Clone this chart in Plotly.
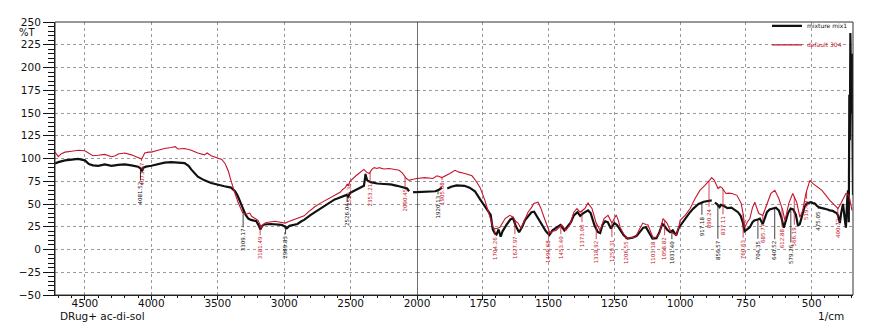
import numpy as np
import plotly.graph_objects as go

# ---- spectrum data (wavenumber in 1/cm, transmittance in %T) ----
mix_wn = [4725, 4700, 4650, 4600, 4550, 4500, 4470, 4440, 4400, 4350, 4300, 4250, 4200, 4150,
          4100, 4080, 4071, 4060, 4040, 4000, 3950, 3900, 3850, 3800, 3750, 3720, 3700, 3650,
          3600, 3550, 3500, 3450, 3400, 3370, 3350, 3330, 3310, 3290, 3270, 3250, 3230, 3210,
          3190, 3180, 3165, 3150, 3100, 3050, 3020, 2990, 2980, 2960, 2930, 2900, 2870, 2850,
          2800, 2760, 2720, 2700, 2650, 2620, 2600, 2560, 2530, 2518, 2505, 2480, 2450, 2420,
          2400, 2392, 2388, 2384, 2375, 2350, 2320, 2300, 2250, 2200, 2150, 2100, 2075, 2060,
          2050, 2040, 2030, 2000,
          1970, 1950, 1930, 1915, 1905, 1895, 1885, 1870, 1850, 1820, 1800, 1780, 1760, 1740,
          1720, 1712, 1705, 1698, 1690, 1682, 1675, 1660, 1645, 1635, 1625, 1612, 1600, 1590,
          1575, 1565, 1555, 1545, 1525, 1510, 1497, 1485, 1470, 1455, 1440, 1428, 1415, 1404,
          1390, 1380, 1370, 1350, 1340, 1325, 1312, 1304, 1295, 1285, 1275, 1263, 1250, 1240,
          1228, 1215, 1200, 1180, 1165, 1150, 1140, 1130, 1120, 1105, 1090, 1080, 1068, 1062,
          1050, 1038, 1028, 1015, 1005, 995, 980, 965, 950, 930, 910, 895, 880, 875, 868, 860,
          850, 845, 835, 820, 805, 790, 780, 770, 762, 755, 745, 735, 725, 718, 705, 697, 686,
          678, 670, 660, 650, 636, 625, 615, 606, 598, 590, 580, 570, 560, 552, 545, 535, 527,
          519, 510, 503, 495, 488, 480, 469, 460, 450, 440, 431, 420, 412, 405, 400, 393, 388,
          381, 375, 370, 365, 362, 359, 357, 355, 353, 351, 349, 347, 345, 343]
mix_t = [94.5, 96, 98, 99, 99.5, 98, 94, 92.5, 92, 93.5, 92, 93, 93.5, 92.5,
         91, 89, 86, 90, 91, 92, 94, 95.5, 96, 95.5, 95, 92, 88, 80,
         76, 73, 71, 69.5, 68, 64, 59, 51, 45, 38, 34, 32.5, 32, 31,
         26, 22, 26, 27.5, 28, 27, 27, 25, 23.5, 26, 27, 28, 31, 32.5,
         38, 42, 46, 48, 52, 55, 56, 58.5, 60, 58, 62, 64, 66, 68,
         70, 78, 83, 80, 76, 74, 73, 72.5, 72, 71.5, 70, 68, 67, 64,
         None, None, 63, 63,
         63.5, 63, 64, 66, 68, None, 67, 69, 70.5, 70, 68, 64, 55, 46,
         38, 22, 18, 16.5, 22, 14, 20, 27, 33, 34.5, 26, 19, 25, 32,
         38, 41, 41.5, 37, 27, 20, 16, 21, 24, 27, 21, 26, 30, 37.5,
         41, 37, 39.5, 43, 40, 26, 19, 18, 27, 31, 30, 23, 29, 27,
         21, 16, 12, 13, 15, 21, 24, 24.5, 20, 12, 12.5, 18, 28, 27,
         22, 19, 21, 15.5, 24, 28, 35, 40, 45, 50, 52.5, 53, 54, None, 51.5, 50,
         46.5, 49, 48, 45.5, 46, 43, 41, 37, 30, 20, 22, 24.5, 30, 32, 33, 34, 28,
         35, 41, 44, 45, 46, 43, 35, 24, 31, 40, 45, 44, 38, 26, 28, 40, 47,
         50.5, 51, 52, 51, 50.5, 48, 46, 45.5, 45, 44, 43, 42.5, 41, 40, 37.5, 29, 40,
         50, 35, 24, 55, 65, 30, 170, 120, 238, 200, 150, 215, 110, 60]

ref_wn = [4725, 4710, 4700, 4680, 4650, 4600, 4550, 4500, 4470, 4440, 4400, 4350, 4300, 4270,
          4250, 4200, 4150, 4110, 4090, 4073, 4060, 4050, 4020, 4000, 3950, 3900, 3850, 3820,
          3800, 3750, 3700, 3650, 3600, 3580, 3550, 3500, 3470, 3445, 3420, 3407, 3390, 3370,
          3350, 3332, 3315, 3300, 3280, 3260, 3245, 3234, 3215, 3197, 3180, 3170, 3160, 3140,
          3121, 3100, 3069, 3030, 2993, 2970, 2940, 2910, 2880, 2850, 2820, 2805, 2770, 2730,
          2700, 2654, 2620, 2579, 2560, 2541, 2525, 2518, 2505, 2480, 2460, 2439, 2420, 2400,
          2394, 2380, 2360, 2340, 2323, 2300, 2286, 2250, 2210, 2170, 2135, 2110, 2098, 2080,
          2060, 2040, 2000,
          1970, 1940, 1924, 1905, 1890, 1875, 1856, 1840, 1818, 1800, 1791, 1775, 1760, 1742,
          1730, 1723, 1711, 1705, 1696, 1685, 1665, 1647, 1635, 1625, 1616, 1605, 1590, 1578,
          1565, 1556, 1540, 1530, 1518, 1510, 1495, 1484, 1472, 1460, 1450, 1434, 1419, 1404,
          1392, 1380, 1362, 1350, 1335, 1320, 1304, 1289, 1274, 1259, 1243, 1235, 1228, 1215,
          1200, 1185, 1170, 1155, 1142, 1130, 1122, 1110, 1103, 1090, 1078, 1065, 1050, 1035,
          1015, 1005, 1000, 981, 962, 943, 925, 906, 894, 885, 880, 870, 856, 848, 841, 826,
          815, 803, 784, 768, 760, 754, 745, 735, 725, 716, 708, 701, 686, 670, 655, 640, 625,
          610, 602, 595, 587, 572, 557, 545, 534, 522, 507, 496, 485, 477, 461, 446, 431, 412,
          400, 390, 381, 370, 358, 347]
ref_t = [107, 104, 102, 105, 107, 108, 109, 108.5, 106, 103, 103.5, 104.5, 102, 103,
         105, 106, 104, 102, 101, 99.5, 103, 106, 107, 107, 109, 111, 112, 113,
         110.5, 111, 109, 106, 104, 106, 103, 101, 99, 94.5, 86, 79, 70, 61.5,
         53, 46, 41, 39.5, 39, 40, 36.5, 35.5, 34, 32, 27, 24.5, 27, 29.5,
         30, 30.5, 31, 30, 29, 30.5, 32, 34, 35.5, 37, 41, 43, 47, 50.7,
         53, 57, 60, 62.8, 66, 68, 72, 70, 75, 79, 81, 83.5, 86, 88,
         87, 85, 83.5, 88, 90, 89, 90, 88.5, 89, 88, 87, 84, 81, 78,
         76, 77, 78,
         79, 78, 81, 79, 81, 83.5, 87, 85, 83.5, 82, 81, 75, 68, 54,
         42, 35.5, 24.5, 23, 23, 24.5, 34, 37.5, 35.5, 31, 29, 23, 33, 41,
         46, 50.7, 52, 46, 36, 29, 18, 20, 21, 24, 27, 21, 27, 41,
         45, 41, 45, 51, 45, 30, 21, 34, 37.5, 29, 38, 32, 24.5, 17,
         12.5, 13, 13.5, 22, 29, 27.5, 27, 18, 13.5, 13.5, 18, 34, 29, 19.5,
         15.5, 25, 32, 37.5, 45, 56, 65, 70.4, 73.7, 77, 79, 76, 67, 69, 68, 61.6,
         62, 61.6, 59.5, 50.7, 38, 24.5, 30, 34, 46, 52, 45, 39.5, 37.5, 50.7, 61.6, 65, 56,
         43, 32, 40, 50.7, 61.6, 52, 35.5, 43, 61.6, 76, 72.6, 70, 68, 65, 59.5, 54, 48.5,
         45, 50, 56, 61.6, 59.5, 43]

# ---- peak picks: wavenumber, which spectrum, label centre (%T) ----
peak_wn = [4073.67, 4081.52, 3309.17, 3181.49, 2989.83, 2512.36, 2526.04, 2353.21, 2090.45,
           1920.13, 1905.08, 1704.26, 1627.97, 1499.68, 1453.40, 1373.06, 1318.92, 1259.31,
           1206.55, 1103.18, 1058.82, 1031.40, 917.18, 890.24, 856.57, 837.11, 760.63, 704.35,
           685.77, 640.52, 612.88, 579.26, 566.19, 519.40, 475.05, 400.72]
peak_series = ["ref", "mix", "mix", "ref", "mix", "ref", "mix", "ref", "ref",
               "mix", "ref", "ref", "ref", "ref", "ref", "ref", "ref", "ref",
               "ref", "ref", "ref", "mix", "mix", "ref", "mix", "ref", "ref", "mix",
               "ref", "mix", "ref", "mix", "ref", "ref", "mix", "ref"]
peak_label_t = [83, 62, 10.2, 1.4, 2.5, 61, 38, 59.5, 54,
                46.3, 62, 1.4, 2.5, -1.9, 2.5, 15.7, -3, -0.8,
                -3, -3, 1.4, -3, 25.5, 34.3, -0.8, 26.6, 0.3, -0.8,
                17.9, -0.8, 12.4, -5, 14.6, 43, 32, 23.3]

BREAK = 2000
BLACK = "#111111"
RED = "#c8142c"
colors = {"mix": BLACK, "ref": RED}


def split(wn, t):
    left = [(w, v) for w, v in zip(wn, t) if w >= BREAK]
    right = [(w, v) for w, v in zip(wn, t) if w <= BREAK]
    return [p[0] for p in left], [p[1] for p in left], [p[0] for p in right], [p[1] for p in right]


def curve_at(wn, t, x):
    pts = [(w, v) for w, v in zip(wn, t) if v is not None]
    xs = np.array([p[0] for p in pts])[::-1]
    ys = np.array([p[1] for p in pts])[::-1]
    return float(np.interp(x, xs, ys))


fig = go.Figure()

series = [("mix", mix_wn, mix_t, "mixture mix1", 2.2),
          ("ref", ref_wn, ref_t, "<span style='color:%s'>default 304</span>" % RED, 1.1)]
for key, wn, t, name, lw in series:
    lw_x, lw_t, rw_x, rw_t = split(wn, t)
    fig.add_trace(go.Scatter(x=lw_x, y=lw_t, xaxis="x", yaxis="y", mode="lines",
                             line=dict(color=colors[key], width=lw), name=name,
                             legendgroup=key, showlegend=True, connectgaps=False))
    fig.add_trace(go.Scatter(x=rw_x, y=rw_t, xaxis="x2", yaxis="y", mode="lines",
                             line=dict(color=colors[key], width=lw), name=name,
                             legendgroup=key, showlegend=False, connectgaps=False))

annotations = []
for w, s, ly in zip(peak_wn, peak_series, peak_label_t):
    src = (mix_wn, mix_t) if s == "mix" else (ref_wn, ref_t)
    tip = curve_at(src[0], src[1], w)
    xr = "x" if w > BREAK else "x2"
    annotations.append(dict(
        x=w, y=tip, xref=xr, yref="y", ax=w, ay=ly, axref=xr, ayref="y",
        text=f"{w:.2f}", textangle=-90, showarrow=True, arrowhead=0,
        arrowwidth=0.8, arrowcolor=colors[s], standoff=0, startstandoff=0,
        font=dict(family="DejaVu Sans", size=5.5, color=colors[s]),
        xanchor="center", yanchor="middle"))

axis_font = dict(family="DejaVu Sans", size=10.5, color=BLACK)
annotations += [
    dict(text="%T", xref="paper", yref="paper", x=-0.035, y=0.963, showarrow=False,
         font=dict(family="DejaVu Sans", size=10, color=BLACK),
         xanchor="center", yanchor="middle"),
    dict(text="DRug+ ac-di-sol", xref="paper", yref="paper", x=0.004, y=-0.078,
         showarrow=False, font=axis_font, xanchor="left", yanchor="middle"),
    dict(text="1/cm", xref="paper", yref="paper", x=0.972, y=-0.078,
         showarrow=False, font=axis_font, xanchor="center", yanchor="middle"),
]

split_at = (417 - 55) / 798

grid = dict(showgrid=True, gridcolor="#9a9a9a", gridwidth=1, griddash="dot")
xcommon = dict(anchor="y", tickmode="linear", tick0=0, ticks="outside", ticklen=4,
               tickcolor=BLACK, showline=True, linecolor=BLACK, linewidth=1,
               zeroline=False, tickfont=axis_font, ticklabelstandoff=-6)
fig.update_layout(
    width=876, height=329,
    margin=dict(l=55, r=23, t=21, b=34),
    paper_bgcolor="white", plot_bgcolor="white",
    font=axis_font,
    showlegend=True,
    legend=dict(x=1, xanchor="right", y=1.035, yanchor="top",
                font=dict(family="DejaVu Sans", size=6, color=BLACK),
                bgcolor="rgba(255,255,255,0)", tracegroupgap=0,
                itemwidth=30, borderwidth=0),
    xaxis=dict(domain=[0, split_at], range=[4725, 2000.5], dtick=500,
               minor=dict(dtick=100, tick0=0, ticks="outside", ticklen=2, tickcolor=BLACK,
                          showgrid=False),
               **xcommon, **grid),
    xaxis2=dict(domain=[split_at, 1], range=[2000, 343], dtick=250,
                minor=dict(dtick=50, tick0=0, ticks="outside", ticklen=2, tickcolor=BLACK,
                           showgrid=False),
                **xcommon, **grid),
    yaxis=dict(range=[-50, 250], anchor="x", tickmode="linear", tick0=0, dtick=25,
               ticks="outside", ticklen=11, tickcolor=BLACK, showline=True,
               linecolor=BLACK, linewidth=1, zeroline=False, tickfont=axis_font,
               minor=dict(dtick=5, tick0=0, ticks="outside", ticklen=6, tickcolor=BLACK,
                          showgrid=False),
               **grid),
    annotations=annotations,
    shapes=[
        dict(type="rect", xref="paper", yref="paper", x0=0, x1=1, y0=0, y1=1,
             line=dict(color="#333333", width=1), layer="above"),
        dict(type="line", xref="x2", yref="paper", x0=BREAK, x1=BREAK, y0=0, y1=1,
             line=dict(color="#222222", width=1.3), layer="above"),
    ],
)

fig.write_html("out.html")
